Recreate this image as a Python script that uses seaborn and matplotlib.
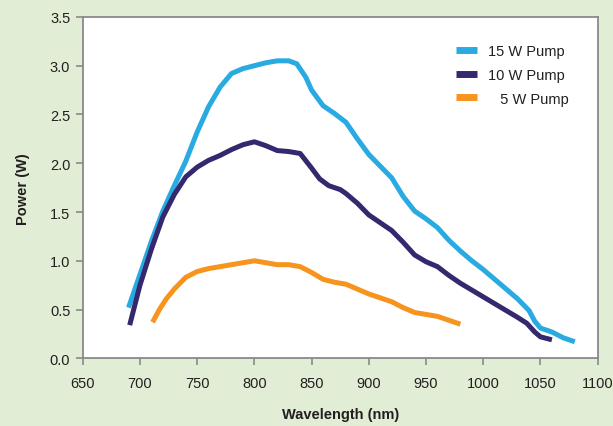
import numpy as np
import pandas as pd
import matplotlib
matplotlib.use('Agg')
import matplotlib.pyplot as plt
import seaborn as sns

# 15 W pump
wl_15 = [690, 700, 710, 720, 730, 740, 750, 760, 770, 780, 790, 800, 810, 820, 830, 837,
         845, 850, 860, 870, 880, 890, 900, 910, 920, 930, 940, 950, 960, 970, 980, 990,
         1000, 1010, 1020, 1030, 1040, 1045, 1050, 1060, 1070, 1080]
pw_15 = [0.52, 0.86, 1.20, 1.51, 1.77, 2.02, 2.32, 2.58, 2.78, 2.92, 2.97, 3.00, 3.03, 3.05, 3.05, 3.02,
         2.88, 2.75, 2.59, 2.51, 2.42, 2.25, 2.09, 1.97, 1.85, 1.66, 1.51, 1.43, 1.34, 1.21, 1.10, 1.00,
         0.91, 0.81, 0.71, 0.61, 0.49, 0.38, 0.31, 0.27, 0.21, 0.17]

# 10 W pump
wl_10 = [691, 700, 710, 720, 730, 740, 750, 760, 770, 780, 790, 800, 810, 820, 830, 840,
         850, 857, 865, 875, 880, 890, 900, 910, 920, 930, 940, 950, 960, 970, 980, 990,
         1000, 1010, 1020, 1030, 1038, 1045, 1050, 1060]
pw_10 = [0.34, 0.75, 1.12, 1.45, 1.68, 1.86, 1.96, 2.03, 2.08, 2.14, 2.19, 2.22, 2.18, 2.13, 2.12, 2.10,
         1.95, 1.84, 1.77, 1.73, 1.69, 1.59, 1.47, 1.39, 1.31, 1.19, 1.06, 0.99, 0.94, 0.85, 0.77, 0.70,
         0.63, 0.56, 0.49, 0.42, 0.36, 0.27, 0.22, 0.19]

# 5 W pump
wl_5 = [711, 717, 723, 730, 740, 750, 760, 770, 780, 790, 800, 810, 820, 830, 840, 850,
        860, 870, 880, 890, 900, 910, 920, 930, 940, 950, 960, 970, 980]
pw_5 = [0.37, 0.50, 0.61, 0.71, 0.83, 0.89, 0.92, 0.94, 0.96, 0.98, 1.00, 0.98, 0.96, 0.96, 0.94, 0.88,
        0.81, 0.78, 0.76, 0.71, 0.66, 0.62, 0.58, 0.52, 0.47, 0.45, 0.43, 0.39, 0.35]

labels = ['15 W Pump', '10 W Pump', '\u2007 5 W Pump']
colors = ['#29abe2', '#35286e', '#f7941d']

df = pd.concat([
    pd.DataFrame({'wl': wl_15, 'power': pw_15, 'pump': labels[0]}),
    pd.DataFrame({'wl': wl_10, 'power': pw_10, 'pump': labels[1]}),
    pd.DataFrame({'wl': wl_5, 'power': pw_5, 'pump': labels[2]}),
])

sns.set_style('white')
plt.rcParams['font.family'] = ['Liberation Sans', 'DejaVu Sans']

bg = '#e2edd5'
fig = plt.figure(figsize=(6.13, 4.27), dpi=100, facecolor=bg)
ax = fig.add_axes([0.135, 0.1585, 0.84, 0.7995])
ax.set_facecolor('white')

for lab, col in zip(labels, colors):
    sub = df[df['pump'] == lab]
    sns.lineplot(data=sub, x='wl', y='power', color=col, linewidth=3.6, ax=ax,
                 label=lab, sort=False, solid_capstyle='butt', solid_joinstyle='round')

ax.set_xlim(650, 1100)
ax.set_ylim(0, 3.5)
ax.set_xticks(np.arange(650, 1101, 50))
ax.set_yticks(np.arange(0, 3.51, 0.5))
ax.set_yticklabels([f'{v:.1f}' for v in np.arange(0, 3.51, 0.5)])

for s in ax.spines.values():
    s.set_color('#8a8a8a')
    s.set_linewidth(1.3)
    s.set_visible(True)
ax.tick_params(axis='both', which='major', bottom=True, left=True, direction='out',
               length=5, width=1.2, color='#8a8a8a',
               labelsize=10.5, labelcolor='#231f20')
ax.tick_params(axis='y', pad=4)
ax.tick_params(axis='x', pad=8)

ax.set_xlabel('Wavelength (nm)', fontsize=10.5, fontweight='bold', color='#231f20', labelpad=12)
ax.set_ylabel('Power (W)', fontsize=10.5, fontweight='bold', color='#231f20', labelpad=14)

leg = ax.legend(loc='upper left', bbox_to_anchor=(0.7, 0.96), frameon=False,
                fontsize=10.5, handlelength=1.4, handletextpad=0.8, labelspacing=0.68)
for h in leg.get_lines():
    h.set_linewidth(5)
for t in leg.get_texts():
    t.set_color('#231f20')

fig.savefig('out.png', dpi=100, facecolor=bg)
